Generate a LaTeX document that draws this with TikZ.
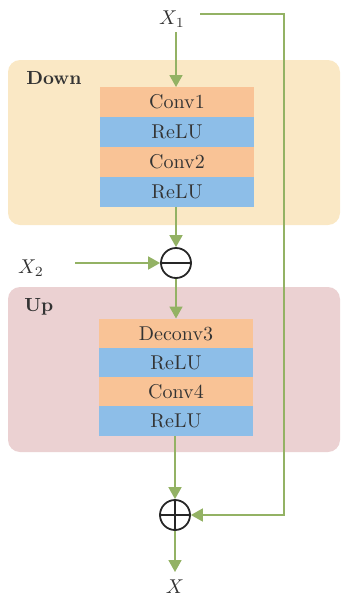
\documentclass[tikz,border=0pt]{standalone}
\usetikzlibrary{arrows.meta}
\definecolor{orangeb}{HTML}{F9C396}
\definecolor{blueb}{HTML}{8DBEE8}
\definecolor{downbg}{HTML}{FAE8C5}
\definecolor{upbg}{HTML}{EBD1D2}
\definecolor{arr}{HTML}{93B264}
\definecolor{txt}{HTML}{333333}
\begin{document}
\begin{tikzpicture}[x=0.5pt,y=-0.5pt,
  panel/.style={rounded corners=6pt, inner sep=0pt, minimum width=166pt, minimum height=82.5pt},
  block/.style={inner sep=0pt, minimum width=77pt, minimum height=15pt, text=txt, font=\fontsize{10}{12}\selectfont},
  conv/.style={block, fill=orangeb},
  relu/.style={block, fill=blueb},
  op/.style={circle, draw=black!85, line width=0.9pt, minimum size=15pt, inner sep=0pt},
  flow/.style={draw=arr, line width=0.9pt, -{Triangle[width=6.5pt,length=6pt]}},
  lbl/.style={text=txt, inner sep=0pt, font=\bfseries\fontsize{9.5}{11}\selectfont},
  mlbl/.style={text=txt}
]
\useasboundingbox (0,0) rectangle (341,595);
% panels
\node[panel, fill=downbg] (down) at (174,142.5) {};
\node[panel, fill=upbg] (up) at (174,369.5) {};
\node[lbl, anchor=west] (downl) at (26,78) {Down};
\node[lbl, anchor=west] (upl) at (24,307) {Up};
% blocks down
\node[conv] (c1) at (177,102) {Conv1};
\node[relu] (r1) at (177,132) {ReLU};
\node[conv] (c2) at (177,162) {Conv2};
\node[relu] (r2) at (177,191.5) {ReLU};
% blocks up
\node[conv, minimum height=14.6pt] (c3) at (176,333.5) {Deconv3};
\node[relu, minimum height=14.6pt] (r3) at (176,362.5) {ReLU};
\node[conv, minimum height=14.6pt] (c4) at (176,391.5) {Conv4};
\node[relu, minimum height=14.6pt] (r4) at (176,421) {ReLU};
% operators
\node[op] (minus) at (176,263) {};
\draw[black!85, line width=0.9pt] (minus.west) -- (minus.east);
\node[op] (plus) at (175,515) {};
\draw[black!85, line width=0.9pt] (plus.west) -- (plus.east) (plus.north) -- (plus.south);
% labels
\node[mlbl] (x1) at (172,19) {$X_1$};
\node[mlbl] (x2) at (31,268) {$X_2$};
\node[mlbl] (x) at (175,587) {$X$};
\coordinate (x2e) at (75,263);
\coordinate (skip) at (200,14);
\coordinate (xin) at (175,572);
% connectors
\draw[flow] (176,32) -- (176,87);
\draw[flow] (r2.south -| minus.north) -- (minus.north);
\draw[flow] (minus.south) -- (minus.south |- c3.north);
\draw[flow] (x2e) -- (minus.west);
\draw[flow] (r4.south -| plus.north) -- (plus.north);
\draw[flow] (plus.south) -- (xin);
\draw[flow] (skip) -- (284,14) -- (284,515) -- (plus.east);
\end{tikzpicture}
\end{document}
